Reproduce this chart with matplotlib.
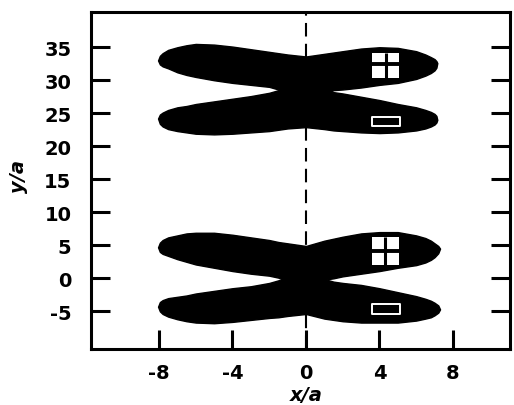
import matplotlib
matplotlib.use("Agg")
import matplotlib.pyplot as plt
from matplotlib.patches import Rectangle

plt.rcParams['font.family'] = ['DejaVu Sans']
plt.rcParams['axes.unicode_minus'] = False

# upper X pattern (around y = 28)
hi_x = [-8.05, -7.95, -7.8, -7.5, -7.0, -6.5, -6.0, -5.0, -4.0, -3.0, -2.0, -1.5, -1.0,
        0.0, 1.0, 1.5, 2.0, 3.0, 4.0, 5.0, 6.0, 6.5, 6.8, 7.0, 7.1, 7.15]
hi_a_top = [33.0, 33.7, 34.1, 34.6, 35.0, 35.3, 35.5, 35.4, 35.1, 34.7, 34.3, 34.1, 33.9,
            33.6, 34.0, 34.2, 34.4, 34.8, 35.0, 34.9, 34.4, 33.9, 33.5, 33.2, 32.9, 32.6]
hi_a_bot = [33.0, 32.4, 32.1, 31.8, 31.2, 30.8, 30.5, 30.0, 29.6, 29.3, 29.0, 28.6, 28.0,
            27.5, 28.0, 28.5, 28.6, 28.9, 29.3, 29.6, 30.2, 30.7, 31.1, 31.5, 31.9, 32.6]
hi_b_top = [24.2, 24.8, 25.1, 25.5, 25.9, 26.1, 26.4, 26.8, 27.2, 27.6, 28.1, 28.5, 29.0,
            29.3, 28.8, 28.2, 28.0, 27.5, 27.0, 26.4, 25.9, 25.5, 25.2, 24.9, 24.6, 24.0]
hi_b_bot = [24.2, 23.4, 23.0, 22.6, 22.3, 22.1, 21.9, 21.8, 21.9, 22.1, 22.3, 22.5, 22.7,
            22.9, 22.6, 22.4, 22.3, 22.1, 22.0, 22.1, 22.4, 22.7, 23.0, 23.3, 23.6, 24.0]

# lower X pattern (around y = 0)
lo_x = [-8.05, -7.95, -7.8, -7.5, -7.0, -6.5, -6.0, -5.0, -4.0, -3.0, -2.0, -1.5, -1.0,
        0.0, 1.0, 1.5, 2.0, 3.0, 4.0, 5.0, 6.0, 6.5, 6.8, 7.0, 7.2, 7.3]
lo_a_top = [4.7, 5.4, 5.8, 6.2, 6.5, 6.8, 6.9, 6.9, 6.6, 6.2, 5.8, 5.5, 5.3,
            4.9, 5.7, 6.0, 6.3, 6.8, 7.0, 7.0, 6.5, 6.1, 5.7, 5.3, 4.9, 4.5]
lo_a_bot = [4.7, 4.0, 3.7, 3.4, 2.9, 2.5, 2.1, 1.6, 1.1, 0.7, 0.4, 0.1, -0.4,
            -0.8, -0.2, 0.0, 0.3, 0.7, 1.1, 1.6, 2.0, 2.4, 2.8, 3.2, 3.8, 4.5]
lo_b_top = [-4.3, -3.6, -3.3, -3.0, -2.8, -2.6, -2.3, -1.9, -1.5, -1.2, -0.7, -0.3, 0.2,
            0.5, -0.1, -0.5, -0.7, -1.0, -1.5, -2.1, -2.7, -3.1, -3.4, -3.7, -4.1, -4.7]
lo_b_bot = [-4.3, -5.0, -5.4, -5.8, -6.2, -6.5, -6.7, -6.8, -6.6, -6.3, -6.0, -5.9, -5.7,
            -5.4, -6.1, -6.3, -6.5, -6.7, -6.7, -6.7, -6.4, -6.1, -5.9, -5.6, -5.2, -4.7]

# white window (with cross) and slot markers
win_x = (3.6, 5.06)
win_y = [(30.3, 34.2), (2.0, 6.2)]
cross_x = [4.37, 4.3]
cross_y = [32.4, 4.2]
slot_x = (3.6, 5.14)
slot_y = [(23.0, 24.5), (-5.4, -3.9)]

xticks = [-8, -4, 0, 4, 8]
yticks = [-5, 0, 5, 10, 15, 20, 25, 30, 35]

fig = plt.figure(figsize=(5.14, 4.06), dpi=100)
ax = fig.add_axes([0.177, 0.138, 0.815, 0.831])

ax.axvline(0, color='black', lw=1.5, dashes=(6.5, 3.5), zorder=1)

for xs, bands in [(hi_x, [(hi_a_bot, hi_a_top), (hi_b_bot, hi_b_top)]),
                  (lo_x, [(lo_a_bot, lo_a_top), (lo_b_bot, lo_b_top)])]:
    for bot, top in bands:
        ax.fill_between(xs, bot, top, color='black', lw=1.0, zorder=2)

for (y0, y1), cx, cy in zip(win_y, cross_x, cross_y):
    ax.add_patch(Rectangle((win_x[0], y0), win_x[1] - win_x[0], y1 - y0,
                           facecolor='white', edgecolor='none', zorder=3))
    ax.plot(win_x, [cy, cy], color='black', lw=2.8, solid_capstyle='butt', zorder=4)
    ax.plot([cx, cx], [y0, y1], color='black', lw=2.2, solid_capstyle='butt', zorder=4)

for y0, y1 in slot_y:
    ax.add_patch(Rectangle((slot_x[0], y0), slot_x[1] - slot_x[0], y1 - y0,
                           facecolor='black', edgecolor='white', lw=1.4,
                           joinstyle='round', zorder=3))

ax.set_xlim(-11.7, 11.1)
ax.set_ylim(-10.7, 40.4)
ax.set_xticks(xticks)
ax.set_yticks(yticks)
ax.set_xticklabels([str(t) for t in xticks], fontweight='bold', fontsize=14)
ax.set_yticklabels([str(t) for t in yticks], fontweight='bold', fontsize=14)
ax.tick_params(axis='both', direction='in', length=13.5, width=2.2)
ax.tick_params(axis='y', right=True, pad=14)
ax.tick_params(axis='x', top=False, pad=10)

for sp in ax.spines.values():
    sp.set_linewidth(2.2)

ax.set_xlabel('x/a', fontweight='bold', fontstyle='italic', fontsize=14)
ax.set_ylabel('y/a', fontweight='bold', fontstyle='italic', fontsize=14)
ax.xaxis.set_label_coords(0.515, -0.108)
ax.yaxis.set_label_coords(-0.15, 0.513)

fig.savefig('out.png', dpi=100)
